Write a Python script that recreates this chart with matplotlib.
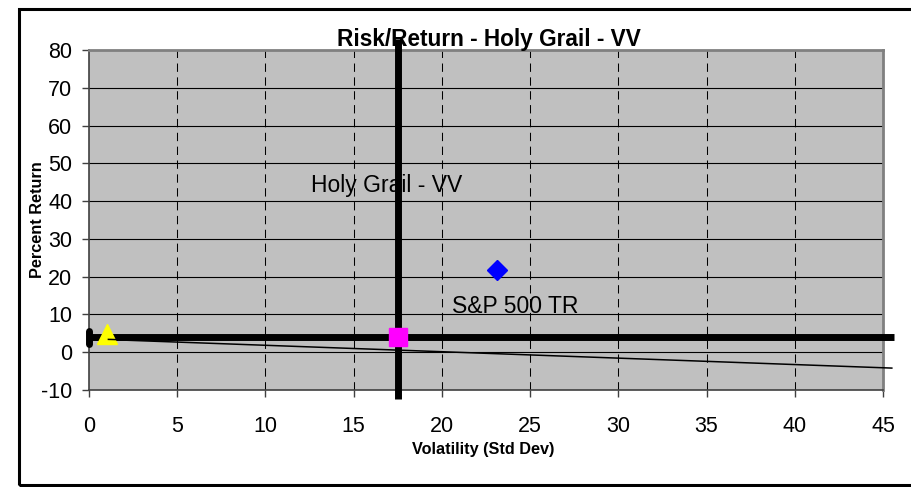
import matplotlib
matplotlib.use('Agg')
import matplotlib.pyplot as plt
from matplotlib import font_manager
from matplotlib.patches import Rectangle

# data
fund_name = 'Holy Grail - VV'
fund_risk, fund_ret = 17.5, 4.0
spx_name = 'S&P 500 TR'
spx_risk, spx_ret = 23.1, 21.8
tbill_risk, tbill_ret = 1.0, 4.7
cml_x = [0.8, 45.5]
cml_y = [3.4, -4.2]
hline_x = [0.0, 45.6]
hline_y = [4.0, 4.0]
vline_x = [17.5, 17.5]
vline_y = [83.0, -12.5]
origin_x = [0.0, 0.0]
origin_y = [2.2, 5.6]
xticks = list(range(0, 50, 5))
yticks = list(range(-10, 90, 10))

names = {f.name for f in font_manager.fontManager.ttflist}
fam = 'Liberation Sans' if 'Liberation Sans' in names else 'DejaVu Sans'
plt.rcParams['font.family'] = fam
plt.rcParams['axes.unicode_minus'] = False

W, H = 911, 487
fig = plt.figure(figsize=(W / 100, H / 100), dpi=100)
ax = fig.add_axes([89 / W, 1 - 390 / H, (883 - 89) / W, (390 - 50) / H])
ax.set_facecolor('#c0c0c0')
ax.set_xlim(0, 45)
ax.set_ylim(-10, 80)

for yv in yticks[1:-1]:
    ax.axhline(yv, color='black', lw=0.8, zorder=1)
for xv in xticks[1:-1]:
    ax.axvline(xv, color='black', lw=0.75, ls=(0, (8, 5.3)), zorder=1)

ax.plot(cml_x, cml_y, color='black', lw=1.1, zorder=3, clip_on=False)
ax.plot(hline_x, hline_y, color='black', lw=5, zorder=4, clip_on=False,
        solid_capstyle='butt')
ax.plot(vline_x, vline_y, color='black', lw=5, zorder=4, clip_on=False,
        solid_capstyle='butt')
ax.plot(origin_x, origin_y, color='black', lw=5, zorder=5, clip_on=False,
        solid_capstyle='round')

ax.plot([tbill_risk], [tbill_ret], marker='^', ms=14.5, color='#ffff00',
        mec='#ffff00', ls='none', zorder=5, clip_on=False)
ax.plot([tbill_risk + 0.1, tbill_risk + 0.85], [3.4, 3.3], color='black',
        lw=1.1, zorder=6)
ax.plot([fund_risk], [fund_ret], marker='s', ms=13, color='#ff00ff',
        mec='#ff00ff', ls='none', zorder=6)
ax.plot([spx_risk], [spx_ret], marker='D', ms=10, color='#0000ff',
        mec='#0000ff', ls='none', zorder=6)

ax.text(12.6, 42.3, fund_name, fontsize=16.5, va='baseline', zorder=3)
ax.text(20.6, 10.4, spx_name, fontsize=16.5, va='baseline', zorder=3)

ax.set_xticks(xticks)
ax.set_yticks(yticks)
ax.tick_params(axis='both', direction='out', length=7 / 1.389, width=1,
               color='#404040', labelsize=15.5)
ax.tick_params(axis='x', pad=14)
ax.tick_params(axis='y', pad=7)

for side in ['left', 'bottom']:
    ax.spines[side].set_color('#404040')
    ax.spines[side].set_linewidth(1.2)
for side in ['top', 'right']:
    ax.spines[side].set_color('#808080')
    ax.spines[side].set_linewidth(2)

ax.set_xlabel('Volatility (Std Dev)', fontsize=11.7, fontweight='bold')
ax.xaxis.set_label_coords(0.497, -0.153)
ax.set_ylabel('Percent Return', fontsize=11.7, fontweight='bold')
ax.yaxis.set_label_coords(-0.0555, 0.5)

fig.text(489 / W, 1 - 46 / H, 'Risk/Return - Holy Grail - VV',
         fontsize=16.3, fontweight='bold', ha='center', va='baseline')

fig.patches.append(Rectangle((18.5 / W, 1 - 485 / H), (W + 20) / W,
                             (485 - 9) / H, transform=fig.transFigure,
                             fill=False, ec='black', lw=2.2, clip_on=False))

fig.savefig('out.png', dpi=100)
